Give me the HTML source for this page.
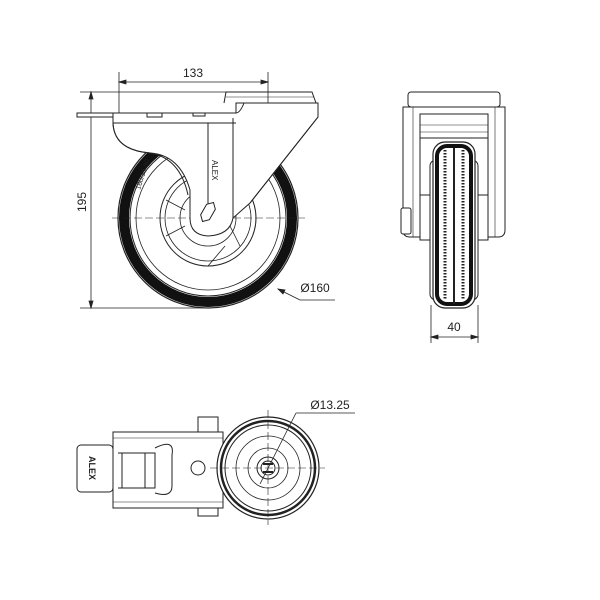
<!DOCTYPE html>
<html><head><meta charset="utf-8"><style>html,body{margin:0;padding:0;background:#fff}svg{display:block}</style></head><body>
<svg width="600" height="600" viewBox="0 0 600 600" xmlns="http://www.w3.org/2000/svg" font-family="Liberation Sans, sans-serif" fill="none" stroke="#222" stroke-width="1">
<!-- SIDE VIEW dimensions -->
<g stroke-width="0.8">
<line x1="119" y1="72" x2="119" y2="130"/><line x1="268" y1="72" x2="268" y2="108"/>
<line x1="119" y1="82" x2="268" y2="82"/>
<path d="M119 82 l7 -2 v4z M268 82 l-7 -2 v4z" fill="#222"/>
<line x1="80" y1="92" x2="230" y2="92"/><line x1="80" y1="308" x2="210" y2="308"/>
<line x1="91" y1="92" x2="91" y2="308"/>
<path d="M91 92 l-2 7 h4z M91 308 l-2 -7 h4z" fill="#222"/>
<line x1="278" y1="289" x2="300" y2="300"/><line x1="300" y1="300" x2="335" y2="300"/>
<path d="M278 289 l7 1 l-2 4z" fill="#222"/>
</g>
<text x="193" y="77" font-size="12" fill="#222" stroke="none" text-anchor="middle">133</text>
<text x="0" y="0" font-size="12" fill="#222" stroke="none" text-anchor="middle" transform="translate(86 202) rotate(-90)">195</text>
<text x="315" y="292" font-size="12" fill="#222" stroke="none" text-anchor="middle">Ø160</text>
<!-- wheel -->
<circle cx="208" cy="218" r="90" stroke-width="1.2"/>
<circle cx="208" cy="218" r="84" stroke="#111" stroke-width="10"/>
<circle cx="208" cy="218" r="78"/>
<circle cx="208" cy="218" r="72" stroke-width="0.8"/>
<circle cx="208" cy="218" r="48"/>
<circle cx="208" cy="218" r="43" stroke-width="0.8"/>
<circle cx="208" cy="218" r="28" stroke-width="0.8"/>
<g stroke-width="0.8"><path d="M208 170 L225 190 M208 266 L225 246 M166 200 L185 210 M166 236 L185 226 M240 190 L230 210 M240 246 L230 226"/></g>
<line x1="112" y1="218" x2="305" y2="218" stroke-width="0.6" stroke-dasharray="8 3"/>
<!-- fork -->
<path d="M113 123 Q114 150 150 153 Q180 155 190 190 L190 218 Q190 235 208 236 Q230 235 233 218 L250 203 L318 117 L318 103 L236 103 L236 113 L113 113 Z" fill="#fff"/>
<path d="M113 113 L236 113 Q240 113 244 103 L318 103 L318 117 L250 203"/>
<path d="M113 113 L113 123 Q114 150 150 153 Q180 158 188 195"/>
<path d="M113 123 L236 123"/>
<path d="M224 103 L226 92 L312 92 L316 103"/><line x1="226" y1="97" x2="314" y2="97" stroke-width="0.6"/>
<line x1="208" y1="123" x2="208" y2="218"/><line x1="233" y1="118" x2="233" y2="218"/>
<path d="M77 113 L113 113 L113 117 L77 117 Z" fill="#fff"/>
<rect x="147" y="113" width="15" height="4" fill="#fff"/><rect x="193" y="113" width="12" height="3" fill="#fff"/>
<polygon points="203,212 208,207 213,212 213,224 208,229 203,224" transform="translate(0,-6) rotate(30 208 218)" fill="#fff"/>
<text x="0" y="0" font-size="7" fill="#222" stroke="none" transform="translate(140 190) rotate(-72)">160/38-80</text>
<text x="0" y="0" font-size="8" fill="#222" stroke="none" transform="translate(212 160) rotate(90)">ALEX</text>
<!-- FRONT VIEW -->
<rect x="408" y="92" width="92" height="15" rx="3" fill="#fff"/>
<path d="M403 107 L505 107 L505 230 Q505 237 498 237 L488 237 L488 120 L420 120 L420 237 L410 237 Q403 237 403 230 Z" fill="#fff"/>
<line x1="413" y1="107" x2="413" y2="237" stroke-width="0.6"/><line x1="495" y1="107" x2="495" y2="237" stroke-width="0.6"/>
<rect x="420" y="114" width="68" height="24" fill="#fff"/>
<line x1="420" y1="125" x2="488" y2="125" stroke-width="0.6"/><line x1="420" y1="132" x2="488" y2="132" stroke-width="0.6"/>
<rect x="401" y="208" width="10" height="26" rx="2" fill="#fff"/>
<rect x="420" y="195" width="12" height="45" fill="#fff"/><rect x="476" y="195" width="12" height="45" fill="#fff"/>
<rect x="430" y="160" width="48" height="140" rx="6" fill="#fff"/>
<rect x="433" y="142" width="42" height="166" rx="12" fill="#fff" stroke-width="1.2"/>
<rect x="437" y="146" width="34" height="158" rx="10" stroke="#111" stroke-width="4"/>
<line x1="445" y1="150" x2="445" y2="300" stroke-width="3" stroke-dasharray="1.5 1.5"/>
<line x1="463" y1="150" x2="463" y2="300" stroke-width="3" stroke-dasharray="1.5 1.5"/>
<line x1="454" y1="148" x2="454" y2="304" stroke-width="2"/>
<g stroke-width="0.8"><line x1="431" y1="305" x2="431" y2="343"/><line x1="478" y1="305" x2="478" y2="343"/>
<line x1="431" y1="337" x2="478" y2="337"/><path d="M431 337 l7 -2 v4z M478 337 l-7 -2 v4z" fill="#222"/></g>
<text x="454" y="331" font-size="12" fill="#222" stroke="none" text-anchor="middle">40</text>
<!-- BOTTOM VIEW -->
<rect x="198" y="417" width="20" height="16" fill="#fff"/><rect x="198" y="507" width="20" height="9" fill="#fff"/>
<rect x="113" y="432" width="110" height="76" fill="#fff"/>
<line x1="113" y1="438" x2="223" y2="438" stroke-width="0.6"/><line x1="113" y1="502" x2="223" y2="502" stroke-width="0.6"/>
<rect x="77" y="445" width="36" height="47" rx="4" fill="#fff"/>
<text x="0" y="0" font-size="9" font-weight="bold" fill="#222" stroke="none" text-anchor="middle" transform="translate(89 468) rotate(90)">ALEX</text>
<path d="M118 453 L155 453 L155 488 L118 488" />
<path d="M155 448 Q175 438 172 455 L172 486 Q172 498 155 493"/>
<line x1="122" y1="453" x2="122" y2="488"/><line x1="145" y1="453" x2="145" y2="488"/>
<circle cx="198" cy="468" r="7"/>
<circle cx="268" cy="468" r="51" fill="#fff" stroke-width="1.2"/>
<circle cx="268" cy="468" r="47" stroke-width="2.5"/>
<circle cx="268" cy="468" r="43"/>
<circle cx="268" cy="468" r="32" stroke-width="0.8"/>
<circle cx="268" cy="468" r="20" stroke-width="0.8"/>
<circle cx="268" cy="468" r="11"/>
<circle cx="268" cy="468" r="7"/>
<line x1="263" y1="464" x2="273" y2="464" stroke-width="2"/><line x1="263" y1="472" x2="273" y2="472" stroke-width="2"/>
<line x1="210" y1="468" x2="325" y2="468" stroke-width="0.6" stroke-dasharray="8 3"/>
<line x1="268" y1="410" x2="268" y2="525" stroke-width="0.6" stroke-dasharray="8 3"/>
<g stroke-width="0.8"><line x1="260" y1="484" x2="296" y2="413"/><line x1="296" y1="413" x2="355" y2="413"/></g>
<text x="330" y="409" font-size="12" fill="#222" stroke="none" text-anchor="middle">Ø13.25</text>
</svg>
</body></html>
